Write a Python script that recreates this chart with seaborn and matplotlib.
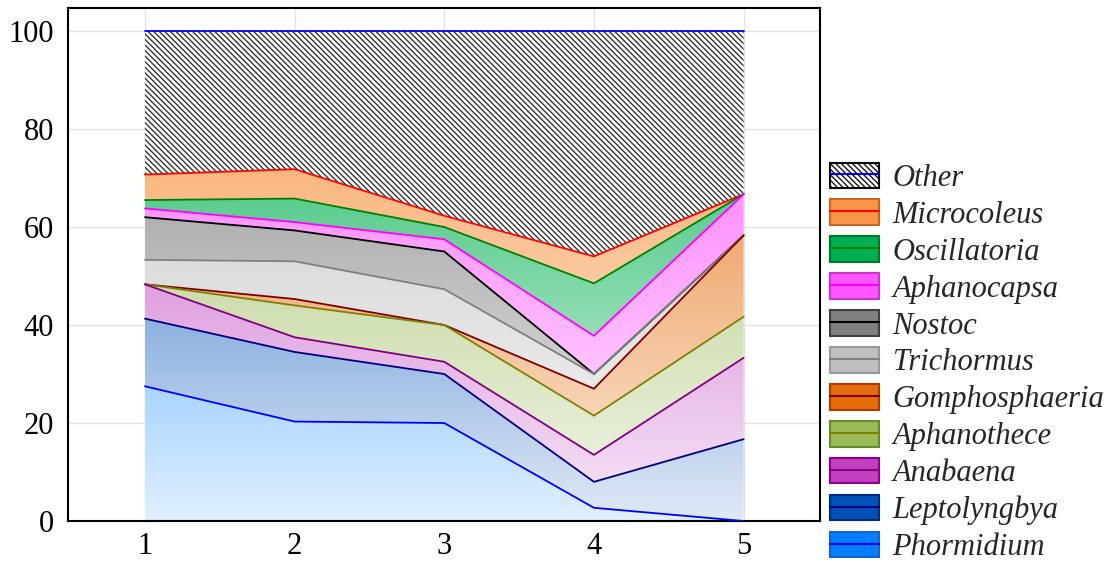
import numpy as np
import pandas as pd
import matplotlib
matplotlib.use("Agg")
import matplotlib.pyplot as plt
from matplotlib.patches import Patch
from matplotlib.lines import Line2D
from matplotlib.colors import to_rgb
import seaborn as sns

# Sampling sites and genus composition (%), bottom of the stack first
sites = [1, 2, 3, 4, 5]
genera = ["Phormidium", "Leptolyngbya", "Anabaena", "Aphanothece", "Gomphosphaeria",
          "Trichormus", "Nostoc", "Aphanocapsa", "Oscillatoria", "Microcoleus", "Other"]
phormidium = [27.5, 20.3, 20.0, 2.7, 0.0]
leptolyngbya = [13.8, 14.2, 10.0, 5.3, 16.7]
anabaena = [7.0, 3.0, 2.5, 5.5, 16.6]
aphanothece = [0.0, 6.5, 7.5, 8.0, 8.4]
gomphosphaeria = [0.0, 1.3, 0.0, 5.5, 16.6]
trichormus = [5.0, 7.7, 7.3, 3.0, 0.0]
nostoc = [8.7, 6.3, 7.7, 0.0, 0.0]
aphanocapsa = [1.8, 1.7, 2.5, 7.8, 8.4]
oscillatoria = [1.7, 4.8, 2.5, 10.7, 0.0]
microcoleus = [5.2, 6.0, 2.3, 5.5, 0.0]
other = [29.3, 28.2, 37.7, 46.0, 33.3]
yticks = [0, 20, 40, 60, 80, 100]

values = [phormidium, leptolyngbya, anabaena, aphanothece, gomphosphaeria,
          trichormus, nostoc, aphanocapsa, oscillatoria, microcoleus, other]

fill_colors = ["#0080ff", "#0050b8", "#c040c0", "#9bbb59", "#e46c0a",
               "#bfbfbf", "#7f7f7f", "#ff55ff", "#00b050", "#f79646", "#ffffff"]
edge_colors = ["#1a5fd0", "#002a80", "#900090", "#6a8a2a", "#b03a00",
               "#999999", "#404040", "#cc33cc", "#007a30", "#c8651e", "#000000"]
line_colors = ["#0000ff", "#000080", "#800080", "#808000", "#800000",
               "#808080", "#000000", "#ff00ff", "#008000", "#ff0000", "#0000ff"]

HATCH = "\\\\\\\\\\\\"

sns.set_theme(style="white")
plt.rcParams["font.family"] = ["Liberation Serif", "DejaVu Serif"]
plt.rcParams["hatch.color"] = "#222222"
plt.rcParams["hatch.linewidth"] = 0.9

fig = plt.figure(figsize=(11.2, 5.68), dpi=100)
ax = fig.add_axes([0.0607, 0.0827, 0.6714, 0.9033])

x = np.array(sites, dtype=float)
tops = np.cumsum(np.array(values), axis=0)
bottoms = np.vstack([np.zeros(len(sites)), tops[:-1]])

# vertical fade: colour strength grows with height
ny = 256
yy = np.linspace(0, 100, ny)
strength = 0.12 + 0.0079 * yy

for i, g in enumerate(genera):
    if g == "Other":
        ax.fill_between(x, bottoms[i], tops[i], facecolor="white", edgecolor="#222222",
                        hatch=HATCH, linewidth=0, zorder=1)
        continue
    poly = ax.fill_between(x, bottoms[i], tops[i], facecolor="none", linewidth=0, zorder=1)
    c = np.array(to_rgb(fill_colors[i]))
    rgb = 1 - strength[:, None] * (1 - c[None, :])
    img = np.concatenate([rgb, np.ones((ny, 1))], axis=1).reshape(ny, 1, 4)
    im = ax.imshow(img, extent=[x[0], x[-1], 0, 100], origin="lower",
                   aspect="auto", interpolation="bilinear", zorder=1)
    im.set_clip_path(poly.get_paths()[0], ax.transData)

# boundary line on top of each layer
df = pd.DataFrame({
    "site": np.tile(x, len(genera)),
    "top": tops.ravel(),
    "genus": np.repeat(genera, len(sites)),
})
sns.lineplot(data=df, x="site", y="top", hue="genus", hue_order=genera[::-1],
             palette=dict(zip(genera, line_colors)), linewidth=1.3,
             estimator=None, sort=False, legend=False, ax=ax, zorder=3)

ax.set_xlim(0.486, 5.51)
ax.set_ylim(0, 104.7)
ax.set_xticks(sites)
ax.set_yticks(yticks)
ax.set_xlabel("")
ax.set_ylabel("")
ax.grid(True, color="#e3e3e3", linewidth=1.0, zorder=0)
ax.set_axisbelow(True)
for s in ax.spines.values():
    s.set_color("black")
    s.set_linewidth(1.5)
ax.tick_params(axis="x", direction="in", length=6, width=1.3, color="black",
               labelsize=22, pad=8, labelcolor="black")
ax.tick_params(axis="y", direction="in", length=0, labelsize=22, pad=10, labelcolor="black")

handles = []
for i in range(len(genera) - 1, -1, -1):
    if genera[i] == "Other":
        p = Patch(facecolor="white", edgecolor="black", hatch=HATCH, linewidth=1.5)
    else:
        p = Patch(facecolor=fill_colors[i], edgecolor=edge_colors[i], linewidth=1.5)
    ln = Line2D([], [], color=line_colors[i], linewidth=1.5)
    handles.append((p, ln))
fig.legend(handles, genera[::-1], loc="center left", bbox_to_anchor=(0.741, 0.362),
           frameon=False, prop={"style": "italic", "size": 22},
           handlelength=1.6, handleheight=0.9, handletextpad=0.45,
           labelspacing=0.22, borderpad=0, borderaxespad=0)

fig.savefig("out.png", dpi=100)
